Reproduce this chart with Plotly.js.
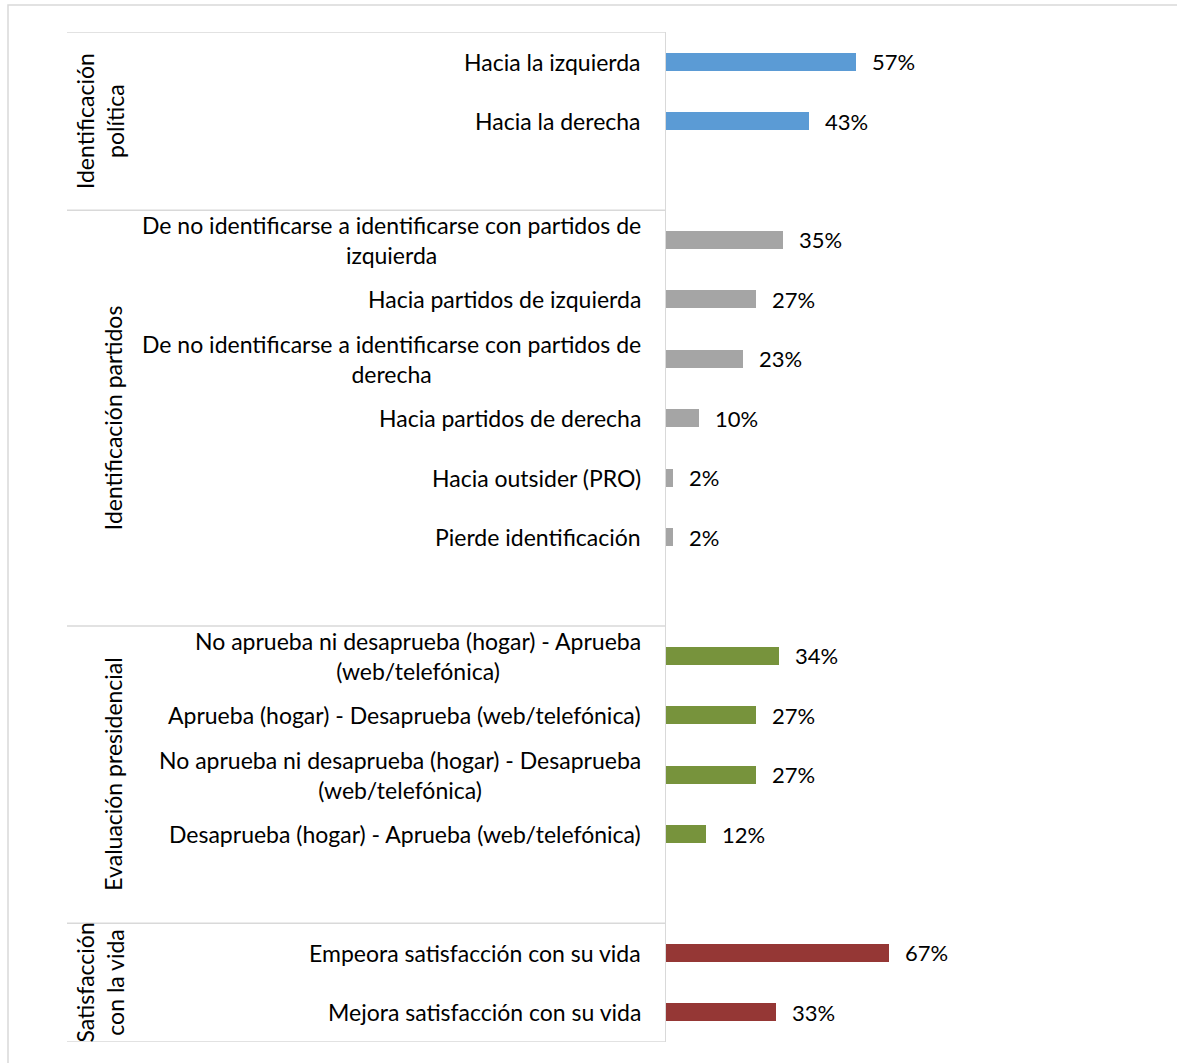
<!DOCTYPE html>
<html>
<head>
<meta charset="utf-8">
<script src="https://cdn.plot.ly/plotly-3.0.1.min.js"></script>
<style>html,body{margin:0;padding:0;background:#fff;}#chart{width:1177px;height:1063px;}</style>
</head>
<body>
<div id="chart"></div>
<script>
// ---- data ----
const groupNames = ["Identificación<br>política", "Identificación partidos", "Evaluación presidencial", "Satisfacción<br>con la vida"];

const labelsPolitica = ["Hacia la izquierda", "Hacia la derecha"];
const valuesPolitica = [57, 43];

const labelsPartidos = [
  "De no identificarse a identificarse con partidos de<br>izquierda",
  "Hacia partidos de izquierda",
  "De no identificarse a identificarse con partidos de<br>derecha",
  "Hacia partidos de derecha",
  "Hacia outsider (PRO)",
  "Pierde identificación"
];
const valuesPartidos = [35, 27, 23, 10, 2, 2];

const labelsEvaluacion = [
  "No aprueba ni desaprueba (hogar) - Aprueba<br>(web/telefónica)",
  "Aprueba (hogar) - Desaprueba (web/telefónica)",
  "No aprueba ni desaprueba (hogar) - Desaprueba<br>(web/telefónica)",
  "Desaprueba (hogar) - Aprueba (web/telefónica)"
];
const valuesEvaluacion = [34, 27, 27, 12];

const labelsSatisfaccion = ["Empeora satisfacción con su vida", "Mejora satisfacción con su vida"];
const valuesSatisfaccion = [67, 33];

// ---- styles ----
const groupColors = ["#5B9BD5", "#A5A5A5", "#77933C", "#953735"];
const groupLabelX = [100, 113, 113, 100]; // px centers of rotated group labels
const FONT = "Lato, 'Open Sans', sans-serif";
const W = 1177, H = 1063;
const ML = 666, MR = 11, MT = 32, MB = 21;
const plotW = W - ML - MR;
const pxToPaperX = px => (px - ML) / plotW;

const groupLabels = [labelsPolitica, labelsPartidos, labelsEvaluacion, labelsSatisfaccion];
const groupValues = [valuesPolitica, valuesPartidos, valuesEvaluacion, valuesSatisfaccion];

const traces = [];
const annotations = [];
const shapes = [];
let pos = 0;
const boundaries = [-0.5];
groupLabels.forEach((labs, g) => {
  const ys = labs.map((_, i) => pos + i);
  const vals = groupValues[g];
  traces.push({
    type: "bar", orientation: "h",
    x: vals, y: ys,
    width: 0.3,
    marker: {color: groupColors[g]},
    hoverinfo: "x+y", showlegend: false
  });
  ys.forEach((y, i) => {
    annotations.push({
      xref: "paper", yref: "y", x: pxToPaperX(643), y: y,
      xanchor: "right", yanchor: "middle", align: "center",
      text: labs[i], showarrow: false,
      font: {family: FONT, size: 23, color: "#000"}
    });
    annotations.push({
      xref: "x", yref: "y", x: vals[i], y: y,
      xanchor: "left", yanchor: "middle", xshift: 14,
      text: vals[i] + "%", showarrow: false,
      font: {family: FONT, size: 22, color: "#000"}
    });
  });
  const last = g === groupLabels.length - 1;
  const end = pos + labs.length + (last ? 0 : 1) - 0.5;
  const start = pos - 0.5;
  annotations.push({
    xref: "paper", yref: "y", x: pxToPaperX(groupLabelX[g]), y: (start + end) / 2,
    xanchor: "center", yanchor: "middle", textangle: -90, align: "center",
    text: groupNames[g], showarrow: false,
    font: {family: FONT, size: 23, color: "#000"}
  });
  boundaries.push(end);
  pos += labs.length + (last ? 0 : 1);
});

boundaries.forEach(b => {
  shapes.push({
    type: "line", xref: "paper", yref: "y",
    x0: pxToPaperX(67), x1: pxToPaperX(665), y0: b, y1: b,
    line: {color: "#D9D9D9", width: 1.5}
  });
});
// outer chart frame
shapes.push({
  type: "rect", xref: "paper", yref: "paper",
  x0: pxToPaperX(8), x1: pxToPaperX(1190),
  y0: (H - MB - 1075) / (H - MT - MB), y1: (H - MB - 5) / (H - MT - MB),
  line: {color: "#D9D9D9", width: 1.5}
});

const layout = {
  width: W, height: H,
  margin: {l: ML, r: MR, t: MT, b: MB, pad: 0},
  paper_bgcolor: "#fff", plot_bgcolor: "#fff",
  bargap: 0,
  xaxis: {range: [0, 150], showgrid: false, zeroline: false, showticklabels: false, showline: false, ticks: ""},
  yaxis: {range: [pos - 0.5, -0.5], showgrid: false, zeroline: false, showticklabels: false, ticks: "",
          showline: true, linecolor: "#D9D9D9", linewidth: 1.5},
  annotations: annotations,
  shapes: shapes,
  font: {family: FONT}
};

Plotly.newPlot("chart", traces, layout, {displayModeBar: false, staticPlot: true});
</script>
</body>
</html>
